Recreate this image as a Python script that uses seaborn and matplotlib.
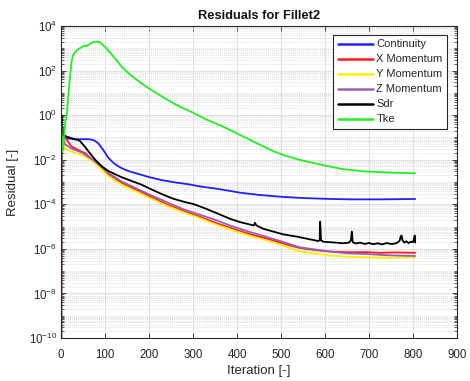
import numpy as np
import pandas as pd
import matplotlib
matplotlib.use("Agg")
import matplotlib.pyplot as plt
import seaborn as sns
from matplotlib.ticker import FixedLocator, FixedFormatter, NullFormatter

# Solver residual history (log10 of residual at the listed iterations)
continuity_iter = [0, 1, 4, 9, 15, 32, 62, 70, 77, 85, 92, 100, 107, 118, 128, 140, 155, 176,
                   200, 230, 260, 289, 316, 350, 384, 407, 450, 498, 550, 611, 660, 725, 770, 805]
continuity_log = [-20, -0.1, -0.8, -0.96, -1.05, -1.08, -1.08, -1.1, -1.15, -1.27, -1.45, -1.68,
                  -1.9, -2.12, -2.27, -2.4, -2.52, -2.64, -2.78, -2.92, -3.02, -3.1, -3.2, -3.29,
                  -3.4, -3.48, -3.58, -3.66, -3.72, -3.76, -3.78, -3.78, -3.77, -3.76]

xmom_iter = [0, 1, 3, 6, 13, 24, 39, 55, 70, 85, 107, 138, 176, 202, 240, 278, 316, 354, 384,
             430, 460, 498, 540, 575, 611, 650, 695, 725, 760, 805]
xmom_log = [-20, 0.0, -0.6, -0.9, -1.11, -1.41, -1.56, -1.71, -1.97, -2.25, -2.65, -3.05, -3.4,
            -3.64, -4.0, -4.3, -4.56, -4.85, -5.05, -5.35, -5.5, -5.72, -5.95, -6.05, -6.12,
            -6.15, -6.15, -6.18, -6.16, -6.18]

ymom_iter = [0, 1, 3, 6, 9, 24, 47, 70, 85, 107, 138, 176, 202, 240, 278, 316, 354, 384, 430,
             460, 498, 540, 575, 611, 650, 695, 725, 760, 805]
ymom_log = [-20, -0.1, -0.9, -1.3, -1.5, -1.64, -1.79, -2.03, -2.3, -2.72, -3.12, -3.47, -3.72,
            -4.06, -4.36, -4.62, -4.92, -5.12, -5.42, -5.58, -5.8, -6.1, -6.2, -6.3, -6.35,
            -6.38, -6.4, -6.4, -6.38]

zmom_iter = [0, 1, 3, 9, 24, 47, 70, 85, 107, 138, 176, 202, 240, 278, 316, 354, 384, 430, 460,
             498, 543, 575, 611, 650, 695, 725, 760, 805]
zmom_log = [-20, 0.0, -0.8, -1.3, -1.5, -1.68, -1.97, -2.2, -2.58, -2.98, -3.33, -3.57, -3.9,
            -4.22, -4.47, -4.72, -4.95, -5.25, -5.42, -5.65, -5.93, -6.02, -6.12, -6.2, -6.23,
            -6.27, -6.3, -6.32]

sdr_iter = [0, 1, 4, 12, 31, 42, 54, 69, 80, 93, 107, 122, 137, 164, 183, 202, 230, 255, 278,
            301, 327, 354, 384, 407, 438, 441, 444, 460, 505, 536, 560, 585, 588, 589, 591, 596,
            610, 625, 640, 655, 659, 661, 663, 670, 680, 690, 700, 710, 720, 730, 740, 750, 760,
            766, 770, 772, 774, 776, 780, 785, 790, 795, 800, 802, 804, 805]
sdr_log = [-20, 0.0, -0.85, -0.96, -1.08, -1.14, -1.41, -1.79, -2.05, -2.3, -2.5, -2.64, -2.78,
           -2.98, -3.12, -3.3, -3.55, -3.75, -3.88, -3.99, -4.18, -4.4, -4.65, -4.8, -4.95,
           -4.83, -4.95, -5.1, -5.35, -5.45, -5.55, -5.65, -5.6, -4.78, -5.62, -5.68, -5.7,
           -5.72, -5.75, -5.72, -5.6, -5.23, -5.7, -5.76, -5.72, -5.78, -5.74, -5.79, -5.75,
           -5.8, -5.74, -5.78, -5.76, -5.7, -5.62, -5.45, -5.4, -5.6, -5.72, -5.66, -5.74, -5.68,
           -5.7, -5.55, -5.4, -5.72]

tke_iter = [0, 2, 4, 6, 10, 13, 16, 20, 24, 28, 36, 44, 51, 58, 66, 73, 80, 88, 95, 100, 112,
            125, 138, 155, 178, 200, 220, 245, 270, 301, 331, 369, 407, 445, 483, 505, 543, 575,
            604, 640, 687, 748, 805]
tke_log = [0.0, -1.0, -1.6, -1.2, -0.3, 0.0, 0.7, 1.6, 2.4, 2.72, 2.92, 3.02, 3.1, 3.1, 3.2,
           3.28, 3.3, 3.28, 3.15, 3.07, 2.8, 2.5, 2.17, 1.85, 1.5, 1.2, 0.95, 0.65, 0.38, 0.1,
           -0.2, -0.52, -0.89, -1.26, -1.62, -1.79, -2.01, -2.15, -2.28, -2.42, -2.52, -2.58,
           -2.61]

series_names = ["Continuity", "X Momentum", "Y Momentum", "Z Momentum", "Sdr", "Tke"]
series_iters = [continuity_iter, xmom_iter, ymom_iter, zmom_iter, sdr_iter, tke_iter]
series_logs = [continuity_log, xmom_log, ymom_log, zmom_log, sdr_log, tke_log]
series_colors = ["#1f1fff", "#ff1a1a", "#ffee00", "#9a5fb4", "#000000", "#22ee22"]

ytick_exps = [4, 2, 0, -2, -4, -6, -8, -10]
xtick_vals = [0, 100, 200, 300, 400, 500, 600, 700, 800, 900]

sns.set_style("ticks")
plt.rcParams["font.family"] = ["Liberation Sans", "DejaVu Sans"]

fig = plt.figure(figsize=(4.7, 3.81), dpi=100)
ax = fig.add_axes([61 / 470, 1 - 338 / 381, 396 / 470, 312 / 381])

frames = []
for name, it, lg in zip(series_names, series_iters, series_logs):
    frames.append(pd.DataFrame({"Iteration": it,
                                "Residual": 10.0 ** np.asarray(lg, dtype=float),
                                "Series": name}))
df = pd.concat(frames, ignore_index=True)

for name, color in zip(series_names, series_colors):
    sns.lineplot(data=df[df["Series"] == name], x="Iteration", y="Residual",
                 color=color, lw=1.3, label=name, estimator=None, sort=False, ax=ax)

ax.set_yscale("log")
ax.set_xlim(0, 900)
ax.set_ylim(1e-10, 1e4)

edge = "#262626"
ax.xaxis.set_major_locator(FixedLocator(xtick_vals))
ax.yaxis.set_major_locator(FixedLocator([10.0 ** e for e in ytick_exps]))
ax.yaxis.set_major_formatter(FixedFormatter(
    [r"$\mathregular{10^{%d}}$" % e for e in ytick_exps]))
minor = [m * 10.0 ** d for d in range(-10, 4) for m in range(1, 10)
         if not (m == 1 and d % 2 == 0)]
ax.yaxis.set_minor_locator(FixedLocator(minor))
ax.yaxis.set_minor_formatter(NullFormatter())

ax.tick_params(axis="both", which="both", direction="in", top=True, right=True,
               colors=edge, labelsize=8.3)
ax.tick_params(axis="x", which="major", pad=8)
ax.tick_params(axis="y", which="major", pad=3)
ax.tick_params(which="major", length=3.5, width=0.6)
ax.tick_params(which="minor", length=2, width=0.5)
for s in ax.spines.values():
    s.set_color(edge)
    s.set_linewidth(0.8)

ax.grid(True, which="major", color="#dcdcdc", lw=0.6, ls="-")
ax.yaxis.grid(True, which="minor", color="#d6d6d6", lw=0.5, ls=(0, (1.5, 1.5)))
ax.set_axisbelow(True)

ax.set_title("Residuals for Fillet2", fontsize=9.3, fontweight="bold", color="#111111", pad=5)
ax.set_xlabel("Iteration [-]", fontsize=9.5, color=edge, labelpad=3)
ax.set_ylabel("Residual [-]", fontsize=9.5, color=edge, labelpad=7)

leg = ax.legend(loc="upper right", bbox_to_anchor=(0.975, 0.971), borderaxespad=0,
                fontsize=8, frameon=True, fancybox=False, framealpha=1, edgecolor=edge,
                handlelength=3.2, handletextpad=0.3, labelspacing=0.45, borderpad=0.4)
leg.get_frame().set_linewidth(0.8)
for line in leg.get_lines():
    line.set_linewidth(1.8)

fig.savefig("out.png", dpi=100)
